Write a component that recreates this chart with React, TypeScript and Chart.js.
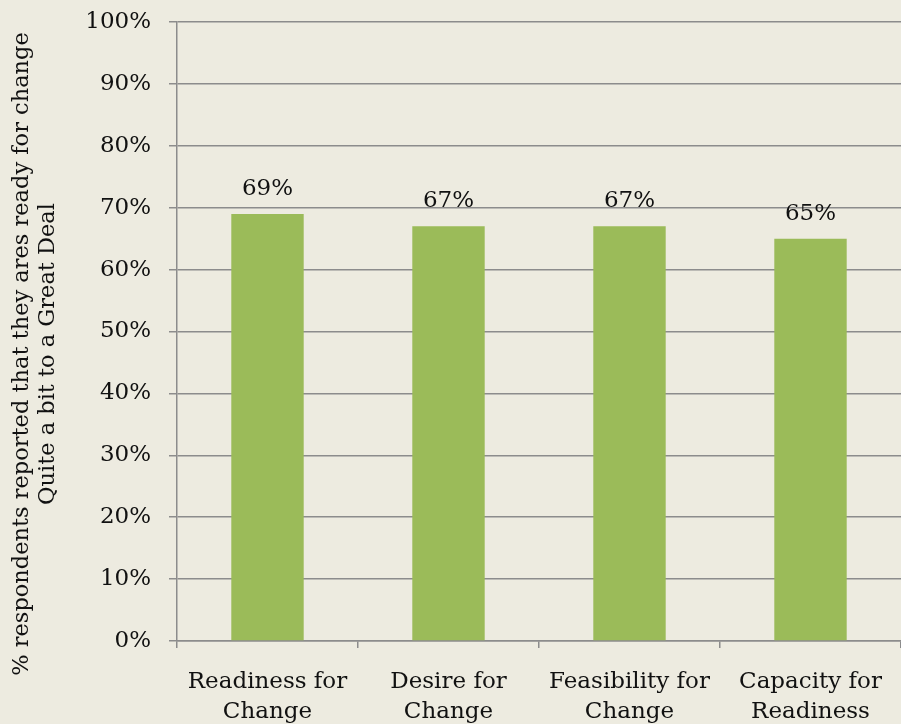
import React, { useEffect, useRef } from "react";
import { Chart, registerables } from "chart.js";

Chart.register(...registerables);

const categories: string[][] = [
  ["Readiness for", "Change"],
  ["Desire for", "Change"],
  ["Feasibility for", "Change"],
  ["Capacity for", "Readiness"],
];
const values: number[] = [69, 67, 67, 65];
const yTicks: number[] = [0, 10, 20, 30, 40, 50, 60, 70, 80, 90, 100];
const yTitle: string[] = [
  "% respondents reported that they ares ready for change",
  "Quite a bit to a Great Deal",
];

const BG = "#EDEBE0";
const BAR = "#9BBB59";
const GRID = "#8C8C8C";
const SERIF = "'DejaVu Serif', Georgia, serif";

// Value labels above each bar
const valueLabels = {
  id: "valueLabels",
  afterDatasetsDraw(chart: any) {
    const { ctx } = chart;
    const meta = chart.getDatasetMeta(0);
    const data = chart.data.datasets[0].data as number[];
    ctx.save();
    ctx.font = `23px ${SERIF}`;
    ctx.fillStyle = "#111111";
    ctx.textAlign = "center";
    ctx.textBaseline = "middle";
    meta.data.forEach((bar: any, i: number) => {
      ctx.fillText(`${Math.round(data[i])}%`, bar.x, bar.y - 25);
    });
    ctx.restore();
  },
};

// Two-line rotated title along the left edge
const sideTitle = {
  id: "sideTitle",
  afterDraw(chart: any) {
    const { ctx } = chart;
    ctx.save();
    ctx.font = `22.5px ${SERIF}`;
    ctx.fillStyle = "#111111";
    ctx.textAlign = "center";
    ctx.textBaseline = "middle";
    ctx.translate(0, 354);
    ctx.rotate(-Math.PI / 2);
    yTitle.forEach((line, i) => {
      ctx.fillText(line, 0, 22 + i * 26);
    });
    ctx.restore();
  },
};

export default function App() {
  const canvasRef = useRef<HTMLCanvasElement | null>(null);

  useEffect(() => {
    document.body.style.margin = "0";
    document.body.style.background = BG;
    const canvas = canvasRef.current;
    if (!canvas) return;
    const chart = new Chart(canvas, {
      type: "bar",
      data: {
        labels: categories,
        datasets: [
          {
            data: values,
            backgroundColor: BAR,
            borderWidth: 0,
            barPercentage: 0.4,
            categoryPercentage: 1,
          },
        ],
      },
      options: {
        responsive: false,
        animation: false,
        maintainAspectRatio: false,
        layout: { padding: { top: 22, right: 0, bottom: 0, left: 0 } },
        plugins: {
          legend: { display: false },
          tooltip: { enabled: false },
        },
        scales: {
          x: {
            offset: true,
            grid: {
              drawOnChartArea: false,
              drawTicks: true,
              tickLength: 7,
              color: GRID,
              lineWidth: 1.5,
              offset: true,
            },
            border: { display: true, color: GRID, width: 1.5 },
            ticks: {
              color: "#111111",
              padding: 19,
              maxRotation: 0,
              autoSkip: false,
              font: { family: SERIF, size: 23, lineHeight: 1.3 },
            },
            afterFit(scale: any) {
              scale.height = 83;
              scale.paddingLeft = 0;
              scale.paddingRight = 0;
            },
          },
          y: {
            min: 0,
            max: 100,
            afterBuildTicks(scale: any) {
              scale.ticks = yTicks.map((v) => ({ value: v }));
            },
            grid: {
              color: GRID,
              lineWidth: 1.5,
              tickLength: 8,
              drawTicks: true,
            },
            border: { display: true, color: GRID, width: 1.5 },
            ticks: {
              color: "#111111",
              padding: 18,
              font: { family: SERIF, size: 23 },
              callback: (v: any) => `${v}%`,
            },
            afterFit(scale: any) {
              scale.width = 177;
              scale.paddingTop = 0;
              scale.paddingBottom = 0;
            },
          },
        },
      },
      plugins: [valueLabels, sideTitle],
    });
    return () => chart.destroy();
  }, []);

  return (
    <div
      style={{
        position: "absolute",
        left: 0,
        top: 0,
        width: 901,
        height: 724,
        background: BG,
      }}
    >
      <canvas ref={canvasRef} width={901} height={724} style={{ display: "block" }} />
    </div>
  );
}
